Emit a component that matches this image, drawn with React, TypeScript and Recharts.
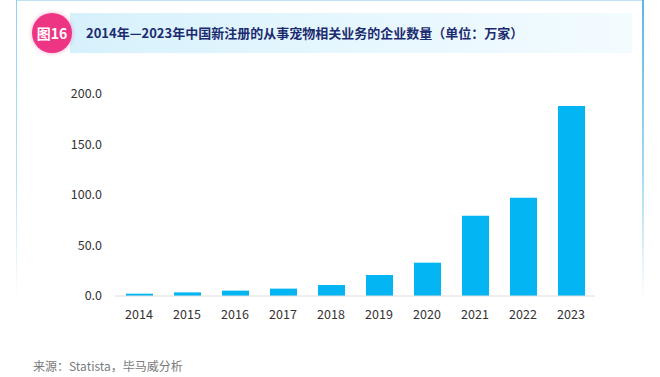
import React from 'react';
import { BarChart, Bar, XAxis, YAxis } from 'recharts';

const years = ['2014', '2015', '2016', '2017', '2018', '2019', '2020', '2021', '2022', '2023'];
const counts = [2.3, 3.6, 5.3, 7.3, 10.9, 20.8, 33.0, 79.5, 97.3, 188.0];
const yTicks = [0, 50, 100, 150, 200];

const data = years.map((y, i) => ({ year: y, value: counts[i] }));

const FONT = '"Noto Sans CJK SC", "Noto Sans", sans-serif';

export default function App() {
  return (
    <div style={{ position: 'absolute', left: 0, top: 0, width: 660, height: 377, background: '#fff', overflow: 'hidden', fontFamily: FONT }}>
      {/* card border */}
      <div style={{ position: 'absolute', left: 16, top: 0, width: 626, height: 1, background: '#bfe3f2' }} />
      <div style={{ position: 'absolute', left: 16, top: 0, width: 1, height: 300, background: 'linear-gradient(to bottom, #8fd0ec 0%, #b8e2f4 60%, rgba(255,255,255,0) 100%)' }} />
      <div style={{ position: 'absolute', left: 642, top: 0, width: 1.5, height: 300, background: 'linear-gradient(to bottom, #5cb8e4 0%, #a9dbf2 60%, rgba(255,255,255,0) 100%)' }} />
      {/* banner */}
      <div style={{ position: 'absolute', left: 70, top: 13, width: 562, height: 40, background: 'linear-gradient(to right, #d6f1fc 0%, #e6f7fe 50%, #f3fbff 100%)' }} />
      {/* badge */}
      <div style={{ position: 'absolute', left: 32, top: 13, width: 40, height: 40, borderRadius: 20, background: '#ee3584', boxShadow: '0 0 4px rgba(238,53,132,0.45)', color: '#fff', fontWeight: 700, fontSize: 14, lineHeight: '40px', textAlign: 'center' }}>图16</div>
      <div style={{ position: 'absolute', left: 86, top: 23, fontSize: 13, fontWeight: 700, color: '#1c2b6e', lineHeight: '20px', whiteSpace: 'nowrap' }}>
        2014年—2023年中国新注册的从事宠物相关业务的企业数量（单位：万家）
      </div>
      {/* source */}
      <div style={{ position: 'absolute', left: 33, top: 357, fontSize: 12, color: '#7a7a7a', lineHeight: '18px', whiteSpace: 'nowrap' }}>
        来源：Statista，毕马威分析
      </div>
      <div style={{ position: 'absolute', left: 0, top: 0 }}>
        <BarChart width={660} height={377} data={data} margin={{ top: 94, right: 65, bottom: 0, left: 0 }}>
          <YAxis
            type="number"
            domain={[0, 200]}
            ticks={yTicks}
            width={115}
            axisLine={false}
            tickLine={false}
            tickSize={0}
            tickMargin={13}
            tickFormatter={(v: number) => v.toFixed(1)}
            tick={{ fontSize: 12.5, fill: '#333', fontFamily: FONT }}
          />
          <XAxis
            dataKey="year"
            axisLine={{ stroke: '#dcdcdc', strokeWidth: 1 }}
            tickLine={false}
            tickSize={0}
            tickMargin={14}
            height={81}
            tick={{ fontSize: 12.5, fill: '#333', fontFamily: FONT }}
            interval={0}
          />
          <Bar dataKey="value" fill="#03b5f2" barSize={27} isAnimationActive={false} />
        </BarChart>
      </div>
    </div>
  );
}
